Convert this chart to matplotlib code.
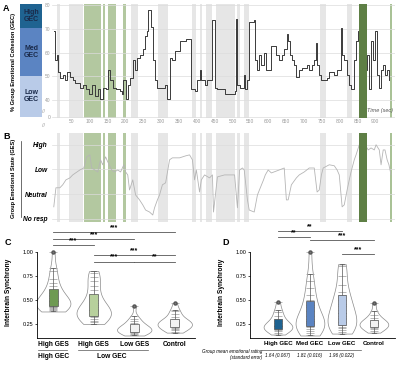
import numpy as np
import matplotlib.pyplot as plt

plt.rcParams['font.family'] = ['Liberation Sans', 'DejaVu Sans']

# ---- Panel A / B time series (time in sec) ----
gec_t = [0, 3, 8, 11, 17, 25, 31, 36, 45, 53, 59, 67, 73, 81, 89, 98, 106, 115, 123, 128,
         137, 145, 151, 156, 165, 173, 179, 184, 190, 195, 201, 207, 212, 221, 226, 232, 240,
         249, 254, 260, 265, 271, 277, 282, 290, 304, 310, 318, 324, 330, 338, 346, 352, 360,
         369, 380, 385, 394, 402, 408, 413, 422, 430, 438, 444, 450, 458, 478, 492, 506, 511,
         514, 520, 531, 536, 542, 547, 559, 564, 570, 575, 581, 589, 595, 603, 609, 617, 623,
         631, 640, 645, 654, 656, 662, 668, 673, 679, 687, 695, 709, 715, 723, 729, 735, 737,
         743, 749, 757, 765, 771, 785, 793, 804, 807, 813, 821, 827, 832, 841, 846, 852, 857,
         860, 866, 871, 877, 883, 888, 894, 899, 905, 911, 916, 922, 927, 933, 938]
gec_v = [69, 56.7, 58.8, 51.8, 49.4, 50.6, 48.6, 51.8, 49.8, 48.6, 47.4, 47, 45.3, 46.5, 44.5,
         42.5, 46.5, 41.6, 44.5, 40.4, 45.3, 44.5, 52.7, 48.6, 45.3, 44.5, 44.5, 43.7, 42.5,
         48.6, 40.4, 46.5, 49.4, 56.7, 52.7, 57.6, 58.8, 61.6, 66.9, 69, 78, 71, 56.7, 48.6,
         45.3, 45.3, 46.5, 40.4, 57.6, 56.7, 60.8, 60.8, 64.9, 64.9, 65.7, 65.7, 44.5, 43.7,
         48.6, 52.7, 48.6, 46.5, 48.6, 48.6, 73.9, 45.3, 44.5, 42.5, 42.5, 43.7, 74.3, 46.5,
         45.3, 50.6, 44.5, 48.6, 73.1, 73.9, 56.7, 52.7, 58.8, 54.7, 60, 52.7, 52.7, 62.9,
         62.9, 58.8, 56.7, 58.8, 61.6, 67.8, 64.9, 58.8, 56.7, 54.7, 49.8, 52.7, 53.5, 54.7,
         52.7, 54.7, 56.7, 64.1, 54.7, 50.6, 48.6, 48.6, 49.4, 51.8, 50.6, 52.7, 70.2, 58.8,
         56.7, 50.6, 46.5, 44.5, 56.7, 64.9, 69, 68.2, 56.7, 69, 52.7, 58.8, 44.5, 64.9, 56.7,
         69, 50.6, 45.3, 52.7, 54.7, 50.6, 52.7, 48.6]

ges_t = [0, 6, 17, 25, 34, 45, 53, 61, 73, 84, 92, 101, 106, 115, 123, 131, 137, 145, 151,
         162, 170, 179, 187, 196, 201, 207, 212, 221, 229, 240, 249, 257, 268, 277, 282, 290,
         296, 304, 313, 324, 332, 352, 369, 380, 388, 394, 399, 408, 413, 422, 436, 444, 447,
         458, 478, 506, 514, 520, 528, 533, 542, 547, 561, 570, 578, 587, 592, 600, 609, 631,
         645, 651, 656, 665, 679, 687, 701, 715, 729, 737, 743, 749, 754, 771, 785, 793, 799,
         807, 813, 821, 827, 832, 841, 846, 855, 863, 880, 888, 897, 902, 911, 916, 922, 927,
         933, 938, 944]
ges_v = [0.49, 1.26, 1.26, 1.38, 1.58, 1.66, 1.78, 1.86, 1.98, 2.06, 2.51, 2.59, 2.06, 1.98,
         1.9, 2.39, 2.19, 2.51, 2.31, 1.98, 1.9, 1.98, 1.9, 2.19, 1.9, 1.78, 1.17, 1.58, 0.97,
         0.77, 0.57, 0.36, 0.28, 0.16, 0.45, 0.77, 0.97, 1.38, 1.46, 2.39, 2.47, 2.47, 2.55,
         2.59, 2.39, 1.58, 1.98, 1.09, 1.58, 1.78, 1.66, 1.78, 0.28, 1.7, 1.78, 1.78, 0.45,
         1.98, 2.06, 1.98, 0.77, 0.36, 0.28, 0.97, 1.26, 1.58, 1.78, 1.98, 1.86, 1.98, 2.06,
         0.77, 0.77, 1.38, 1.66, 1.78, 1.9, 2.06, 2.06, 1.09, 1.17, 1.78, 2.06, 2.19, 2.15,
         1.98, 1.78, 0.49, 0.57, 1.17, 1.58, 1.9, 2.39, 2.59, 3.0, 3.2, 2.79, 2.87, 2.79, 3.0,
         2.79, 2.19, 2.79, 2.79, 2.39, 2.19, 1.78]

gray_spans = [(8, 17), (42, 81), (215, 235), (293, 321), (388, 399), (408, 416), (427, 444),
              (455, 506), (514, 520), (533, 547), (746, 762), (821, 835)]
green_spans = [(84, 131), (137, 142), (151, 173), (193, 201)]
dark_green_spans = [(855, 877)]
green_lines = [(941, 947)]

gec_ticks = [40, 50, 60, 70, 80]
time_ticks = [50, 100, 150, 200, 250, 300, 350, 400, 450, 500, 550, 600, 650, 700, 750, 800,
              850, 900]
ges_levels = ['No resp', 'Neutral', 'Low', 'High']

# ---- Panel C / D interbrain synchrony samples ----
c_labels = ['High GES', 'High GES', 'Low GES', 'Control']
c_groups = [
    [0.38, 0.40, 0.41, 0.42, 0.43, 0.43, 0.44, 0.45, 0.45, 0.46, 0.47, 0.48, 0.50, 0.52,
     0.54, 0.55, 0.57, 0.60, 0.64, 0.68, 0.72, 0.80, 0.83, 1.0],
    [0.25, 0.27, 0.28, 0.30, 0.32, 0.33, 0.34, 0.35, 0.36, 0.37, 0.38, 0.39, 0.41, 0.43,
     0.45, 0.47, 0.50, 0.55, 0.60, 0.65, 0.70, 0.74, 0.78, 0.80],
    [0.13, 0.14, 0.15, 0.16, 0.17, 0.17, 0.18, 0.19, 0.20, 0.20, 0.21, 0.22, 0.23, 0.24,
     0.26, 0.28, 0.30, 0.33, 0.44],
    [0.16, 0.17, 0.19, 0.20, 0.21, 0.22, 0.23, 0.24, 0.25, 0.25, 0.26, 0.27, 0.28, 0.29,
     0.30, 0.32, 0.35, 0.38, 0.40, 0.47],
]
c_colors = ['#6e9a52', '#b7d09c', '#f2f2f2', '#f2f2f2']
c_sig = [(0, 3, '***'), (0, 2, '***'), (0, 1, '***'), (1, 3, '***'), (1, 2, '***'), (2, 3, '**')]
c_sig_y = [1.21, 1.135, 1.07, 0.97, 0.90, 0.90]

d_labels = ['High GEC', 'Med GEC', 'Low GEC', 'Control']
d_groups = [
    [0.14, 0.16, 0.18, 0.19, 0.20, 0.21, 0.22, 0.23, 0.23, 0.24, 0.26, 0.28, 0.30, 0.33,
     0.37, 0.40, 0.48],
    [0.13, 0.16, 0.18, 0.20, 0.22, 0.23, 0.24, 0.25, 0.26, 0.26, 0.27, 0.30, 0.33, 0.38,
     0.43, 0.45, 0.50, 0.55, 0.62, 0.70, 0.77, 1.0],
    [0.15, 0.17, 0.19, 0.21, 0.22, 0.24, 0.27, 0.30, 0.31, 0.33, 0.36, 0.40, 0.44, 0.46,
     0.50, 0.55, 0.58, 0.66, 0.75, 0.85, 0.87],
    [0.16, 0.18, 0.20, 0.21, 0.22, 0.23, 0.24, 0.25, 0.26, 0.27, 0.28, 0.29, 0.31, 0.34,
     0.38, 0.47],
]
d_colors = ['#1f6391', '#5b84c2', '#b9cbe8', '#f2f2f2']
d_ratings = ['1.64 (0.067)', '1.81 (0.016)', '1.96 (0.022)']
d_sig = [(0, 2, '**'), (0, 1, '**'), (1, 3, '***'), (2, 3, '***')]
d_sig_y = [1.215, 1.155, 1.12, 0.98]

fig = plt.figure(figsize=(4, 3.65), dpi=100)


def shade(ax):
    for a, b in gray_spans:
        ax.axvspan(a, b, color='#e6e6e6', lw=0, zorder=0)
    for a, b in green_spans:
        ax.axvspan(a, b, color='#b3c8a0', lw=0, zorder=0)
    for a, b in dark_green_spans:
        ax.axvspan(a, b, color='#5e7f45', lw=0, zorder=3)
    for a, b in green_lines:
        ax.axvspan(a, b, color='#a9c296', lw=0, zorder=0)
    ax.set_xlim(-5, 955)
    for s in ax.spines.values():
        s.set_visible(False)


# Panel A
axA = fig.add_axes([0.13, 0.677, 0.8575, 0.312])
shade(axA)
axA.plot(gec_t, gec_v, color='#3a3a3a', lw=0.7, drawstyle='steps-post', zorder=2)
axA.set_ylim(32.5, 80.5)
axA.set_yticks([33] + gec_ticks)
axA.set_yticklabels(['0'] + [str(t) for t in gec_ticks])
axA.set_xticks(time_ticks)
axA.tick_params(length=0, labelsize=3.5, labelcolor='#9a9a9a', pad=1)
axA.grid(axis='y', color='#dcdcdc', lw=0.5)
axA.text(0.995, 0.04, 'Time (sec)', transform=axA.transAxes, ha='right', va='bottom',
         fontsize=4, style='italic', color='#555555')
fig.text(0.108, 0.695, '//', fontsize=4, color='#999999', ha='center', va='center')
fig.text(0.108, 0.655, '//', fontsize=4, color='#999999', ha='center', va='center')

# GEC colour bar
axBar = fig.add_axes([0.05, 0.68, 0.055, 0.309])
axBar.set_xlim(0, 1)
axBar.set_ylim(33, 80)
bands = [(70, 80, '#1f6391', 'High\nGEC'), (50, 70, '#5b84c2', 'Med\nGEC'),
         (33, 50, '#b9cbe8', 'Low\nGEC')]
for lo, hi, col, lab in bands:
    axBar.axhspan(lo, hi, color=col, lw=0)
    axBar.text(0.5, (lo + hi) / 2, lab, ha='center', va='center', fontsize=5,
               fontweight='bold', color='#1a2a4a', linespacing=1.0)
axBar.axis('off')
fig.text(0.035, 0.83, '% Group Emotional Cohesion (GEC)', rotation=90, ha='center',
         va='center', fontsize=4.1, fontweight='bold')
fig.text(0.008, 0.97, 'A', fontsize=6.5, fontweight='bold')

# Panel B
axB = fig.add_axes([0.13, 0.392, 0.8575, 0.244])
shade(axB)
axB.plot(ges_t, ges_v, color='#b5b5b5', lw=0.6, zorder=2)
axB.set_ylim(-0.12, 3.48)
axB.set_yticks(range(4))
axB.set_yticklabels(ges_levels, fontsize=4.8, fontweight='bold', style='italic')
axB.set_xticks([])
axB.tick_params(length=0, pad=3)
axB.grid(axis='y', color='#dcdcdc', lw=0.5)
fig.text(0.035, 0.51, 'Group Emotional State (GES)', rotation=90, ha='center', va='center',
         fontsize=4.1, fontweight='bold')
fig.plot = None
fig.add_artist(plt.Line2D([0.052, 0.052], [0.405, 0.615], color='#333333', lw=0.5))
fig.text(0.008, 0.62, 'B', fontsize=6.5, fontweight='bold')


def violin_panel(ax, groups, colors, vwidth, bwidth):
    pos = np.arange(len(groups))
    vp = ax.violinplot(groups, positions=pos, widths=vwidth, showextrema=False,
                       bw_method=0.5)
    for body in vp['bodies']:
        body.set_facecolor('white')
        body.set_edgecolor('#8a8a8a')
        body.set_linewidth(0.5)
        body.set_alpha(1)
    for i, g in enumerate(groups):
        ax.scatter([i] * len(g), g, marker='_', s=30, color='#9a9a9a', lw=0.5, zorder=2)
    bp = ax.boxplot(groups, positions=pos, widths=bwidth, patch_artist=True,
                    medianprops=dict(color='#555555', lw=0.6),
                    whiskerprops=dict(color='#555555', lw=0.5),
                    capprops=dict(color='#555555', lw=0.5),
                    boxprops=dict(lw=0.5, edgecolor='#555555'),
                    flierprops=dict(marker='o', markersize=2.2, markerfacecolor='#777777',
                                    markeredgecolor='#555555', lw=0.3))
    for patch, col in zip(bp['boxes'], colors):
        patch.set_facecolor(col)
        patch.set_zorder(3)
    ax.set_ylim(0.104, 1.28)
    ax.set_yticks([0.25, 0.5, 0.75, 1.0])
    ax.set_yticklabels(['0.25', '0.50', '0.75', '1.00'])
    ax.tick_params(axis='y', labelsize=4, length=1.5, width=0.5, pad=1)
    ax.tick_params(axis='x', length=0, pad=2)
    for s in ['top', 'right']:
        ax.spines[s].set_visible(False)
    ax.spines['left'].set_bounds(0.104, 1.0)
    ax.spines['left'].set_linewidth(0.6)
    ax.spines['bottom'].set_linewidth(0.6)
    ax.set_ylabel('Interbrain Synchrony', fontsize=4.8, fontweight='bold', labelpad=2)
    ax.yaxis.set_label_coords(-0.16, 0.4)


def sig_bars(ax, sig, ys):
    for (a, b, s), y in zip(sig, ys):
        ax.plot([a, b], [y, y], color='#555555', lw=0.6, clip_on=False)
        ax.text((a + b) / 2, y + 0.01, s, ha='center', va='bottom', fontsize=5,
                fontweight='bold')


# Panel C
axC = fig.add_axes([0.0925, 0.074, 0.395, 0.3096])
violin_panel(axC, c_groups, c_colors, 0.85, 0.22)
axC.set_xlim(-0.4, 3.5)
axC.set_xticks(range(4))
axC.set_xticklabels(c_labels, fontsize=4.8, fontweight='bold')
sig_bars(axC, c_sig, c_sig_y)
axC.plot([-0.38, 0.35], [-0.11, -0.11], color='#555555', lw=0.5, clip_on=False,
         transform=axC.get_xaxis_transform())
axC.plot([0.6, 2.35], [-0.11, -0.11], color='#555555', lw=0.5, clip_on=False,
         transform=axC.get_xaxis_transform())
axC.text(0, -0.13, 'High GEC', transform=axC.get_xaxis_transform(), ha='center', va='top',
         fontsize=4.8, fontweight='bold')
axC.text(1.45, -0.13, 'Low GEC', transform=axC.get_xaxis_transform(), ha='center', va='top',
         fontsize=4.8, fontweight='bold')
fig.text(0.012, 0.33, 'C', fontsize=6.5, fontweight='bold')

# Panel D
axD = fig.add_axes([0.625, 0.074, 0.3625, 0.3096])
violin_panel(axD, d_groups, d_colors, 0.9, 0.25)
axD.yaxis.set_label_coords(-0.17, 0.4)
axD.set_xlim(-0.875, 3.66)
axD.set_xticks(range(4))
axD.set_xticklabels(d_labels, fontsize=4.4, fontweight='bold')
sig_bars(axD, d_sig, d_sig_y)
axD.plot([-0.5, 2.6], [-0.11, -0.11], color='#555555', lw=0.5, clip_on=False,
         transform=axD.get_xaxis_transform())
for i, r in enumerate(d_ratings):
    axD.text(i, -0.13, r, transform=axD.get_xaxis_transform(), ha='center', va='top',
             fontsize=3.3, style='italic')
fig.text(0.655, 0.028, 'Group mean emotional rating\n(standard error)', ha='right', va='center',
         fontsize=3.3, style='italic')
fig.text(0.555, 0.33, 'D', fontsize=6.5, fontweight='bold')

fig.savefig('out.png', dpi=100)
